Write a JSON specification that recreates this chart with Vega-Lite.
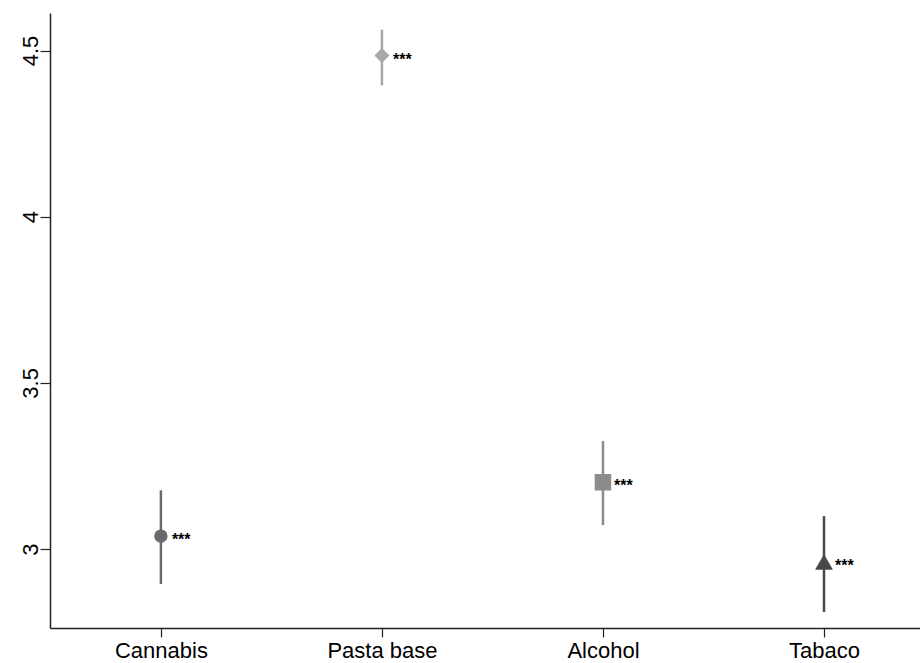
{
  "$schema": "https://vega.github.io/schema/vega-lite/v6.json",
  "width": 870,
  "height": 615,
  "autosize": {"type": "none"},
  "padding": {"left": 50, "top": 13, "right": 0, "bottom": 35},
  "background": "white",
  "config": {
    "view": {"stroke": null},
    "axis": {
      "grid": false,
      "domainColor": "#222222",
      "domainWidth": 1.5,
      "tickColor": "#222222",
      "tickWidth": 1.2,
      "labelColor": "#000000",
      "labelFont": "Liberation Sans",
      "labelFontSize": 22,
      "title": null
    }
  },
  "data": {
    "values": [
      {"droga": "Cannabis", "est": 3.039, "lo": 2.895, "hi": 3.177, "sig": "***"},
      {"droga": "Pasta base", "est": 4.485, "lo": 4.395, "hi": 4.563, "sig": "***"},
      {"droga": "Alcohol", "est": 3.201, "lo": 3.072, "hi": 3.325, "sig": "***"},
      {"droga": "Tabaco", "est": 2.961, "lo": 2.811, "hi": 3.099, "sig": "***"}
    ]
  },
  "encoding": {
    "x": {
      "field": "droga",
      "type": "nominal",
      "sort": ["Cannabis", "Pasta base", "Alcohol", "Tabaco"],
      "scale": {"type": "point", "padding": 0.468, "align": 0.536},
      "axis": {"labelAngle": 0, "tickSize": 9, "labelPadding": 3}
    }
  },
  "layer": [
    {
      "mark": {"type": "rule", "strokeWidth": 2.5},
      "encoding": {
        "y": {
          "field": "lo",
          "type": "quantitative",
          "scale": {"domain": [2.7625, 4.613], "nice": false, "zero": false},
          "axis": {
            "values": [3, 3.5, 4, 4.5],
            "format": ".1~f",
            "labelAngle": 270,
            "labelAlign": "center",
            "labelBaseline": "alphabetic",
            "tickSize": 10,
            "labelPadding": 3
          }
        },
        "y2": {"field": "hi"},
        "color": {
          "field": "droga",
          "type": "nominal",
          "scale": {
            "domain": ["Cannabis", "Pasta base", "Alcohol", "Tabaco"],
            "range": ["#6a6a6a", "#a8a8a8", "#8c8c8c", "#474747"]
          },
          "legend": null
        }
      }
    },
    {
      "mark": {"type": "point", "filled": true, "opacity": 1},
      "encoding": {
        "y": {"field": "est", "type": "quantitative"},
        "shape": {
          "field": "droga",
          "type": "nominal",
          "scale": {
            "domain": ["Cannabis", "Pasta base", "Alcohol", "Tabaco"],
            "range": ["circle", "diamond", "square", "triangle-up"]
          },
          "legend": null
        },
        "size": {
          "field": "droga",
          "type": "nominal",
          "scale": {
            "domain": ["Cannabis", "Pasta base", "Alcohol", "Tabaco"],
            "range": [180, 320, 180, 270]
          },
          "legend": null
        },
        "color": {
          "field": "droga",
          "type": "nominal",
          "scale": {
            "domain": ["Cannabis", "Pasta base", "Alcohol", "Tabaco"],
            "range": ["#666666", "#a0a0a0", "#868686", "#404040"]
          },
          "legend": null
        }
      }
    },
    {
      "mark": {
        "type": "text",
        "align": "left",
        "baseline": "alphabetic",
        "dx": 11,
        "dy": 9,
        "fontSize": 16,
        "fontWeight": "bold",
        "font": "Liberation Sans",
        "color": "#000000"
      },
      "encoding": {
        "y": {"field": "est", "type": "quantitative"},
        "text": {"field": "sig", "type": "nominal"}
      }
    }
  ]
}
